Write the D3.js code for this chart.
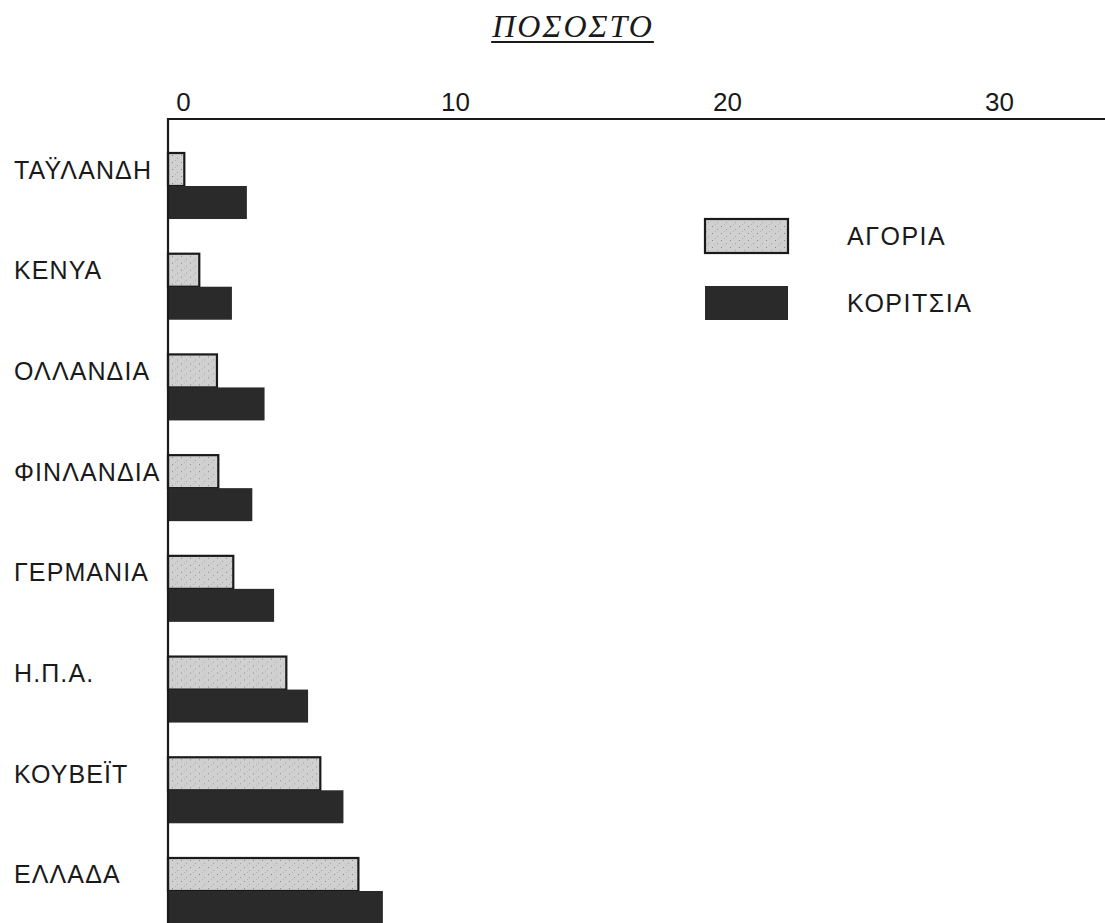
<!DOCTYPE html>
<html>
<head>
<meta charset="utf-8">
<script src="https://cdn.jsdelivr.net/npm/d3@7"></script>
<style>
  html, body { margin: 0; padding: 0; background: #fff; }
  svg { display: block; }
</style>
</head>
<body>
<svg id="chart" width="1105" height="923"></svg>
<script>
const categories = ["ΤΑΫΛΑΝΔΗ", "KENYA", "ΟΛΛΑΝΔΙΑ", "ΦΙΝΛΑΝΔΙΑ", "ΓΕΡΜΑΝΙΑ", "Η.Π.Α.", "ΚΟΥΒΕΪΤ", "ΕΛΛΑΔΑ"];
const boys  = [0.6, 1.15, 1.8, 1.85, 2.4, 4.35, 5.6, 7.0];
const girls = [2.9, 2.35, 3.55, 3.1, 3.9, 5.15, 6.45, 7.9];
const seriesNames = ["ΑΓΟΡΙΑ", "ΚΟΡΙΤΣΙΑ"];
const xTicks = [0, 10, 20, 30];
const title = "ΠΟΣΟΣΤΟ";

const svg = d3.select("#chart");
const colors = { "ΑΓΟΡΙΑ": "#cecece", "ΚΟΡΙΤΣΙΑ": "#2a2a2a" };

// stipple pattern for the light bars
const defs = svg.append("defs");
const pat = defs.append("pattern").attr("id", "stip").attr("patternUnits", "userSpaceOnUse")
  .attr("width", 9).attr("height", 7);
pat.append("rect").attr("width", 9).attr("height", 7).attr("fill", "#d0d0d0");
pat.append("rect").attr("x", 1).attr("y", 2).attr("width", 1).attr("height", 1).attr("fill", "#8a8a8a");
pat.append("rect").attr("x", 6).attr("y", 5).attr("width", 1).attr("height", 1).attr("fill", "#a0a0a0");
pat.append("rect").attr("x", 4).attr("y", 0).attr("width", 1).attr("height", 1).attr("fill", "#b5b5b5");

const x0 = 168, axisY = 119;
const x = d3.scaleLinear().domain([0, 34.4]).range([x0, x0 + 34.4 * 27.2]);

const y = d3.scaleBand().domain(categories).range([119, 958])
  .paddingInner(0.3446).paddingOuter(0.3376);
const ySub = d3.scaleBand().domain(seriesNames).range([0, y.bandwidth()]);

const rows = categories.map((c, i) => ({ c, vals: [ {s: "ΑΓΟΡΙΑ", v: boys[i]}, {s: "ΚΟΡΙΤΣΙΑ", v: girls[i]} ] }));

const g = svg.append("g");
const groups = g.selectAll("g.row").data(rows).join("g")
  .attr("transform", d => `translate(0,${y(d.c)})`);

groups.selectAll("rect").data(d => d.vals).join("rect")
  .attr("x", x(0))
  .attr("y", d => ySub(d.s))
  .attr("width", d => x(d.v) - x(0))
  .attr("height", ySub.bandwidth())
  .attr("fill", d => d.s === "ΑΓΟΡΙΑ" ? "url(#stip)" : colors[d.s])
  .attr("stroke", d => d.s === "ΑΓΟΡΙΑ" ? "#1a1a1a" : "none")
  .attr("stroke-width", 2.2);

// category labels (left aligned), centered on the first bar
g.selectAll("text.cat").data(categories).join("text")
  .attr("class", "cat")
  .attr("x", 14)
  .attr("y", d => y(d) + ySub.bandwidth() / 2)
  .attr("dy", "0.36em")
  .attr("font-family", "Liberation Sans, Arial, sans-serif")
  .attr("font-size", 25)
  .attr("letter-spacing", 1.1)
  .attr("fill", "#1a1a1a")
  .text(d => d);

// top axis
const axis = d3.axisTop(x).tickValues(xTicks).tickSize(0).tickPadding(8).tickFormat(d3.format("d"));
const ax = svg.append("g").attr("transform", `translate(0,${axisY})`).call(axis);
ax.select(".domain").attr("stroke", "#1a1a1a").attr("stroke-width", 2.2).attr("d", `M${x0},0H1105`);
ax.selectAll(".tick text")
  .attr("dx", 15)
  .attr("font-family", "Liberation Sans, Arial, sans-serif")
  .attr("font-size", 26)
  .attr("fill", "#1a1a1a");

// left axis line
svg.append("line").attr("x1", x0).attr("x2", x0).attr("y1", axisY - 1).attr("y2", 923)
  .attr("stroke", "#1a1a1a").attr("stroke-width", 2.2);

// title
const t = svg.append("text").attr("x", 573).attr("y", 37)
  .attr("text-anchor", "middle")
  .attr("font-family", "Liberation Serif, Times New Roman, serif")
  .attr("font-style", "italic")
  .attr("font-size", 32)
  .attr("letter-spacing", 2)
  .attr("fill", "#1a1a1a")
  .text(title);
const bb = t.node().getBBox();
svg.append("line").attr("x1", bb.x).attr("x2", bb.x + bb.width).attr("y1", 42).attr("y2", 42)
  .attr("stroke", "#1a1a1a").attr("stroke-width", 2);

// legend
const leg = svg.append("g");
seriesNames.forEach((s, i) => {
  const top = i === 0 ? 219 : 286;
  leg.append("rect").attr("x", 705).attr("y", top).attr("width", 83).attr("height", 34)
    .attr("fill", s === "ΑΓΟΡΙΑ" ? "url(#stip)" : colors[s])
    .attr("stroke", s === "ΑΓΟΡΙΑ" ? "#1a1a1a" : "none").attr("stroke-width", 2.2);
  leg.append("text").attr("x", 847).attr("y", top + 17).attr("dy", "0.36em")
    .attr("font-family", "Liberation Sans, Arial, sans-serif")
    .attr("font-size", 25).attr("letter-spacing", 1.5)
    .attr("fill", "#1a1a1a").text(s);
});
</script>
</body>
</html>
